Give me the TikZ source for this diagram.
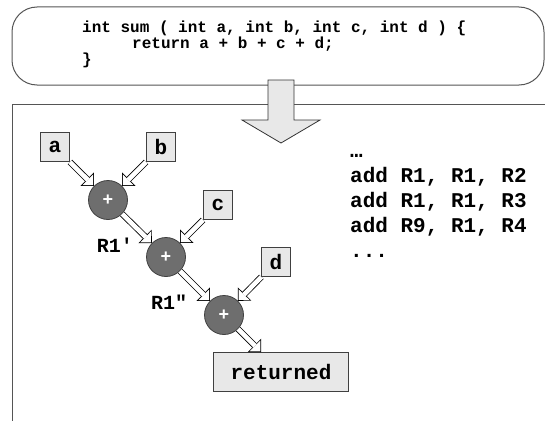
\documentclass[tikz,border=0pt]{standalone}
\usepackage{fontspec}
\setmonofont{Liberation Mono}
\newfontfamily\plusfont{Liberation Sans}
\usetikzlibrary{arrows.meta}
\definecolor{boxfill}{HTML}{E8E8E8}
\definecolor{opfill}{HTML}{6E6E6E}
\definecolor{edge}{HTML}{404040}
\definecolor{frame}{HTML}{555555}

% hollow arrow: a black body with a white body 0.8pt inside it
\newcommand\flowarrow[2]{%
  \draw[flowout] (#1) -- (#2);
  \draw[flowin] (#1) -- (#2);}

\begin{document}
\begin{tikzpicture}[x=1pt,y=-1pt,
  framebox/.style={draw=frame, line width=1pt},
  codeline/.style={anchor=base west, inner sep=0pt, font=\ttfamily\bfseries\fontsize{16}{16}\selectfont},
  asmline/.style={anchor=base west, inner sep=0pt, font=\ttfamily\bfseries\fontsize{21}{25}\selectfont},
  varbox/.style={draw=edge, fill=boxfill, line width=0.8pt, minimum size=29pt, inner sep=0pt,
    font=\ttfamily\bfseries\fontsize{21}{24}\selectfont},
  retbox/.style={varbox, minimum width=135pt, minimum height=39pt},
  opnode/.style={circle, draw=edge, fill=opfill, line width=0.8pt, minimum size=39pt, inner sep=0pt,
    text=white, font=\plusfont\bfseries\fontsize{18}{20}\selectfont},
  reglabel/.style={inner sep=0pt, font=\ttfamily\bfseries\fontsize{20}{22}\selectfont},
  flowout/.style={draw=black, line width=6.2pt,
    -{Triangle[width=19pt,length=9.5pt,line width=0pt]}},
  flowin/.style={draw=white, line width=4.6pt, shorten >=1.13pt,
    -{Triangle[width=15.14pt,length=7.57pt,line width=0pt]}},
  bigarrow/.style={draw=black!80, fill=boxfill, line width=0.8pt, line join=miter}
]
\useasboundingbox (0,0) rectangle (545,420);
\clip (0,0) rectangle (545,420);

% source code frame
\draw[framebox, rounded corners=25pt] (12,7) rectangle (544,85);
\node[codeline] (code1) at (82,32.5) {int sum ( int a, int b, int c, int d ) \{};
\node[codeline] (code2) at (132,48.5) {return a + b + c + d;};
\node[codeline] (code3) at (82,64.5) {\}};

% dataflow frame (open to the right and bottom)
\draw[framebox] (12,104) rectangle (560,440);

% translation arrow
\draw[bigarrow] (268,80) -- (268,120) -- (242,120) -- (281,143) -- (320,120)
  -- (294,120) -- (294,80) -- cycle;

% operands and additions
\node[varbox] (a) at (55,147) {a};
\node[varbox] (b) at (161,147) {b};
\node[varbox] (c) at (218,205) {c};
\node[varbox] (d) at (276,262) {d};
\node[opnode] (p1) at (108,200) {+};
\node[opnode] (p2) at (166,257) {+};
\node[opnode] (p3) at (224,315) {+};
\node[retbox] (ret) at (281,372) {returned};

\flowarrow{a}{p1}
\flowarrow{b}{p1}
\flowarrow{p1}{p2}
\flowarrow{c}{p2}
\flowarrow{p2}{p3}
\flowarrow{d}{p3}
\flowarrow{p3}{ret}

\node[reglabel] (r1a) at (115,245) {R1'};
\node[reglabel] (r1b) at (169,302) {R1"};

% generated instructions
\node[asmline] (asm0) at (350,157) {…};
\node[asmline] (asm1) at (350,182) {add R1, R1, R2};
\node[asmline] (asm2) at (350,207) {add R1, R1, R3};
\node[asmline] (asm3) at (350,232) {add R9, R1, R4};
\node[asmline] (asm4) at (350,257) {...};
\end{tikzpicture}
\end{document}
